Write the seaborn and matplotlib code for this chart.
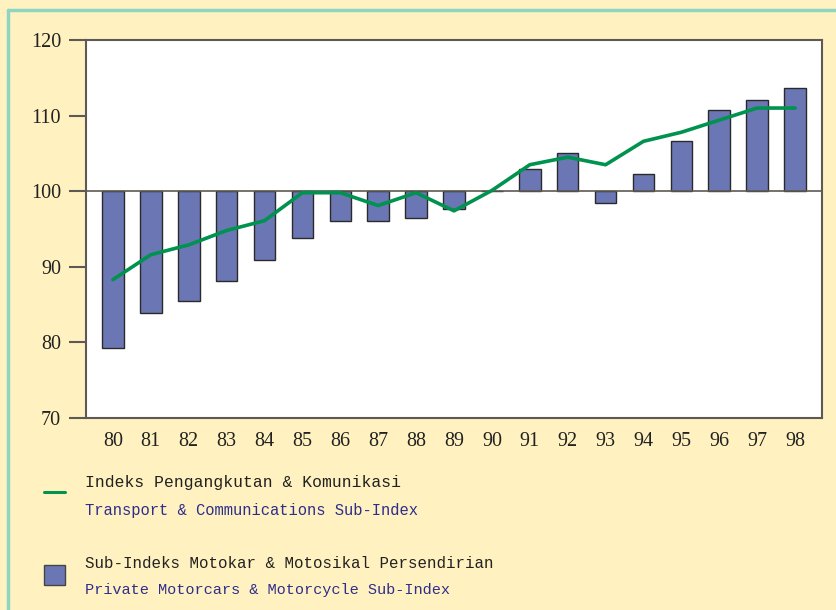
import matplotlib
matplotlib.use("Agg")
import matplotlib.pyplot as plt
from matplotlib.lines import Line2D
from matplotlib.patches import Rectangle
import numpy as np
import pandas as pd
import seaborn as sns

years = ["80", "81", "82", "83", "84", "85", "86", "87", "88", "89",
         "90", "91", "92", "93", "94", "95", "96", "97", "98"]
motor_index = [79.2, 83.9, 85.5, 88.1, 90.9, 93.8, 96.1, 96.0, 96.5, 97.6,
               100.0, 103.0, 105.0, 98.4, 102.3, 106.6, 110.7, 112.1, 113.7]
transport_index = [88.3, 91.6, 92.9, 94.8, 96.1, 99.8, 99.8, 98.1, 99.8, 97.4,
                   100.1, 103.5, 104.5, 103.5, 106.6, 107.8, 109.4, 111.0, 111.0]
yticks = [70, 80, 90, 100, 110, 120]
legend_line_bm = "Indeks Pengangkutan & Komunikasi"
legend_line_en = "Transport & Communications Sub-Index"
legend_bar_bm = "Sub-Indeks Motokar & Motosikal Persendirian"
legend_bar_en = "Private Motorcars & Motorcycle Sub-Index"

BASE = 100.0
df = pd.DataFrame({
    "year": years,
    "dev": np.array(motor_index) - BASE,
    "pos": np.arange(len(years)),
    "transport": transport_index,
})

BG = "#FFF2C0"
BAR = "#6B77B4"
GREEN = "#00924F"
SPINE = "#5E5954"
BLUE_TXT = "#2E2E8C"

sns.set_theme(style="white")
plt.rcParams["font.family"] = ["Liberation Serif", "DejaVu Serif"]

fig = plt.figure(figsize=(8.37, 6.10), dpi=100, facecolor=BG)
ax = fig.add_axes([86 / 837, 1 - 418 / 610, (822 - 86) / 837, (418 - 40) / 610])
ax.set_facecolor("white")

sns.barplot(data=df, x="year", y="dev", ax=ax, color=BAR, saturation=1,
            width=0.57, edgecolor="#2A2A2A", linewidth=1.0, bottom=BASE,
            errorbar=None, zorder=2)
sns.lineplot(data=df, x="pos", y="transport", ax=ax, color=GREEN,
             linewidth=2.6, zorder=4)

ax.axhline(BASE, color=SPINE, linewidth=1.2, zorder=3)
ax.set_ylim(70, 120)
ax.set_xlim(-0.71, 18.71)
ax.set_yticks(yticks)
ax.set_yticklabels([str(t) for t in yticks], fontsize=14.5, color="#222222")
ax.set_xticks(range(len(years)))
ax.set_xticklabels(years, fontsize=14.5, color="#222222")
ax.tick_params(axis="y", direction="out", length=12, width=1.5, color=SPINE,
               pad=6, left=True)
ax.tick_params(axis="x", length=0, pad=10)
ax.set_xlabel("")
ax.set_ylabel("")
for s in ax.spines.values():
    s.set_visible(True)
    s.set_color(SPINE)
    s.set_linewidth(1.5)

# teal frame on left and top of the page
fig.add_artist(Line2D([8 / 837, 8 / 837], [0, 1 - 10 / 610], transform=fig.transFigure,
                      color="#8ED6C2", linewidth=2.5))
fig.add_artist(Line2D([8 / 837, 1], [1 - 10 / 610, 1 - 10 / 610], transform=fig.transFigure,
                      color="#8ED6C2", linewidth=2.5))

# legend
mono = ["Liberation Mono", "DejaVu Sans Mono"]
fig.add_artist(Line2D([44 / 837, 65 / 837], [1 - 492 / 610, 1 - 492 / 610],
                      transform=fig.transFigure, color=GREEN, linewidth=2.2))
fig.text(85 / 837, 1 - 483 / 610, legend_line_bm, family=mono, fontsize=11.8,
         color="#222222", va="center", ha="left")
fig.text(85 / 837, 1 - 510 / 610, legend_line_en, family=mono, fontsize=11.2,
         color=BLUE_TXT, va="center", ha="left")
fig.add_artist(Rectangle((44 / 837, 1 - 585 / 610), 21 / 837, 20 / 610,
                         transform=fig.transFigure, facecolor=BAR,
                         edgecolor="#444444", linewidth=1.0))
fig.text(85 / 837, 1 - 563 / 610, legend_bar_bm, family=mono, fontsize=11.4,
         color="#222222", va="center", ha="left")
fig.text(85 / 837, 1 - 590 / 610, legend_bar_en, family=mono, fontsize=11.0,
         color=BLUE_TXT, va="center", ha="left")

fig.savefig("out.png", dpi=100, facecolor=BG)
